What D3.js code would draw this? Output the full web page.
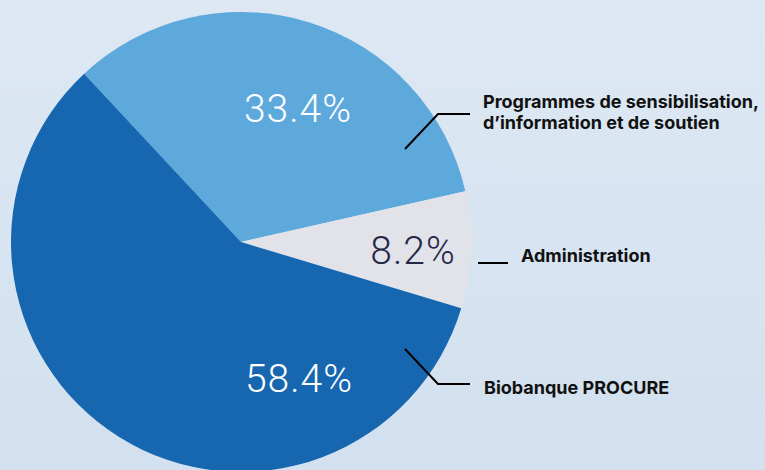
<!DOCTYPE html>
<html>
<head>
<meta charset="utf-8">
<script src="https://cdn.jsdelivr.net/npm/d3@7"></script>
<style>
  html, body { margin: 0; padding: 0; }
  body { width: 765px; height: 470px; overflow: hidden; }
  .pct { font-family: Roboto, "Open Sans", sans-serif; font-weight: 300; letter-spacing: 1px; }
  .lbl { font-family: Inter, Roboto, sans-serif; font-weight: 700; fill: #111; }
</style>
</head>
<body>
<div id="chart"></div>
<script>
// data
const categories = [`Programmes de sensibilisation, d’information et de soutien`, `Administration`, `Biobanque PROCURE`];
const labelLines = [[`Programmes de sensibilisation,`, `d’information et de soutien`], [`Administration`], [`Biobanque PROCURE`]];
const values = [33.4, 8.2, 58.4];
const colors = [`#5da9dc`, `#e1e3e8`, `#1666b0`];
const pctColors = [`#ffffff`, `#26284a`, `#ffffff`];

const width = 765;
const height = 470;
const cx = 241;
const cy = 242;
const radius = 230;
const startDeg = -43;

// label layout, relative to pie center
const pctPos = [[57, -134], [172, 8], [58, 136]];
const leaders = [
  [[164, -93], [197, -128], [229, -128]],
  [[237, 21], [267, 21]],
  [[164, 107], [197, 142], [229, 142]],
];
const textPos = [[242, -134], [280, 20], [243, 152]];

const svg = d3.select(`#chart`).append(`svg`)
  .attr(`width`, width)
  .attr(`height`, height);

const grad = svg.append(`defs`).append(`linearGradient`)
  .attr(`id`, `bg`)
  .attr(`x1`, 0).attr(`y1`, 0).attr(`x2`, 0).attr(`y2`, 1);
grad.append(`stop`).attr(`offset`, `0%`).attr(`stop-color`, `#dde8f3`);
grad.append(`stop`).attr(`offset`, `100%`).attr(`stop-color`, `#d2e0ef`);

svg.append(`rect`)
  .attr(`width`, width)
  .attr(`height`, height)
  .attr(`fill`, `url(#bg)`);

const start = startDeg * Math.PI / 180;
const pie = d3.pie()
  .sort(null)
  .value(d => d)
  .startAngle(start)
  .endAngle(start + 2 * Math.PI);

const arc = d3.arc().innerRadius(0).outerRadius(radius);

const g = svg.append(`g`)
  .attr(`transform`, `translate(${cx}, ${cy})`);

g.selectAll(`path.slice`)
  .data(pie(values))
  .enter().append(`path`)
    .attr(`class`, `slice`)
    .attr(`d`, arc)
    .attr(`fill`, (d, i) => colors[i]);

g.selectAll(`text.pct`)
  .data(values)
  .enter().append(`text`)
    .attr(`class`, `pct`)
    .attr(`x`, (d, i) => pctPos[i][0])
    .attr(`y`, (d, i) => pctPos[i][1])
    .attr(`dy`, `0.36em`)
    .attr(`text-anchor`, `middle`)
    .attr(`font-size`, 39)
    .attr(`fill`, (d, i) => pctColors[i])
    .text(d => `${d.toFixed(1)}%`);

const line = d3.line();
g.selectAll(`path.leader`)
  .data(leaders)
  .enter().append(`path`)
    .attr(`class`, `leader`)
    .attr(`d`, d => line(d))
    .attr(`fill`, `none`)
    .attr(`stroke`, `#000`)
    .attr(`stroke-width`, 2);

const lbl = g.selectAll(`text.lbl`)
  .data(categories)
  .enter().append(`text`)
    .attr(`class`, `lbl`)
    .attr(`x`, (d, i) => textPos[i][0])
    .attr(`y`, (d, i) => textPos[i][1])
    .attr(`font-size`, 18);

lbl.selectAll(`tspan`)
  .data((d, i) => labelLines[i])
  .enter().append(`tspan`)
    .attr(`x`, function () { return this.parentNode.getAttribute(`x`); })
    .attr(`dy`, (d, i) => i === 0 ? 0 : 20.6)
    .text(d => d);
</script>
</body>
</html>
